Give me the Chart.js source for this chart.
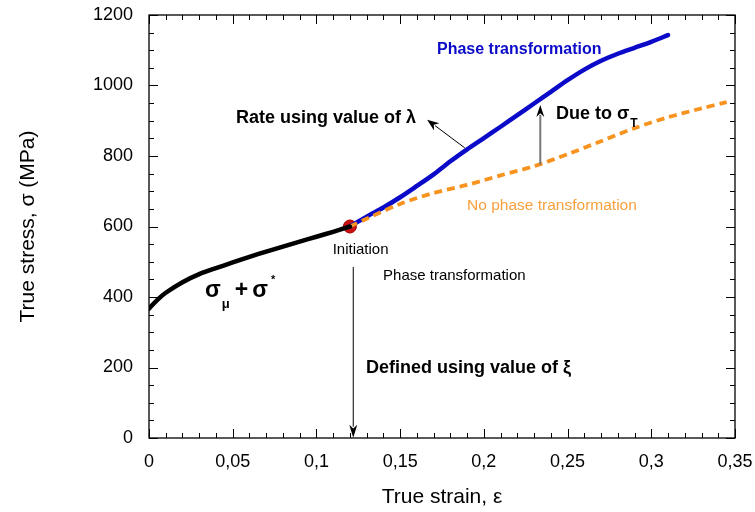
<!DOCTYPE html>
<html><head><meta charset="utf-8">
<script src="https://cdn.jsdelivr.net/npm/chart.js@4/dist/chart.umd.min.js"></script>
<style>html,body{margin:0;padding:0;background:#fff}</style>
</head><body>
<canvas id="c" width="755" height="512"></canvas>
<script>
// ---- data ----
const strainElastic = [0, 0.005, 0.01, 0.02, 0.03, 0.04, 0.05, 0.06, 0.07, 0.08, 0.09, 0.1, 0.11, 0.12];
const stressElastic = [367, 392, 412, 442, 465, 482, 498, 514, 529, 543, 557, 571, 585, 600];

const strainPhase = [0.12, 0.13, 0.14, 0.15, 0.16, 0.17, 0.18, 0.19, 0.2, 0.21, 0.22, 0.23, 0.24, 0.25, 0.26, 0.27, 0.28, 0.29, 0.3, 0.31];
const stressPhase = [600, 628, 654, 683, 715, 748, 785, 819, 851, 883, 916, 949, 982, 1015, 1045, 1070, 1090, 1107, 1124, 1143];

const strainNoPhase = [0.12, 0.13, 0.15, 0.17, 0.19, 0.21, 0.23, 0.25, 0.27, 0.29, 0.31, 0.33, 0.345];
const stressNoPhase = [600, 622, 664, 695, 718, 745, 771, 805, 842, 879, 910, 935, 953];

const initiationStrain = [0.12];
const initiationStress = [600];

const xTickValues = [0, 0.05, 0.1, 0.15, 0.2, 0.25, 0.3, 0.35];
const xTickLabels = ['0', '0,05', '0,1', '0,15', '0,2', '0,25', '0,3', '0,35'];
const yTickValues = [0, 200, 400, 600, 800, 1000, 1200];
const yTickLabels = ['0', '200', '400', '600', '800', '1000', '1200'];

const FONT = '"Liberation Sans", Arial, Helvetica, sans-serif';

function pts(xs, ys) { return xs.map((v, i) => ({ x: v, y: ys[i] })); }

function arrow(ctx, x1, y1, x2, y2, color, lw, hl, hw, headColor) {
  const ang = Math.atan2(y2 - y1, x2 - x1);
  const bx = x2 - hl * Math.cos(ang), by = y2 - hl * Math.sin(ang);
  ctx.strokeStyle = color; ctx.lineWidth = lw;
  ctx.beginPath(); ctx.moveTo(x1, y1); ctx.lineTo(bx + 2 * Math.cos(ang), by + 2 * Math.sin(ang)); ctx.stroke();
  ctx.fillStyle = headColor || color;
  ctx.beginPath();
  ctx.moveTo(x2, y2);
  ctx.lineTo(bx + hw / 2 * Math.sin(ang), by - hw / 2 * Math.cos(ang));
  ctx.lineTo(x2 - hl * 0.7 * Math.cos(ang), y2 - hl * 0.7 * Math.sin(ang));
  ctx.lineTo(bx - hw / 2 * Math.sin(ang), by + hw / 2 * Math.cos(ang));
  ctx.closePath(); ctx.fill();
}

function zeroPad(s) { s.paddingTop = 0; s.paddingBottom = 0; s.paddingLeft = 0; s.paddingRight = 0; }

const deco = {
  id: 'deco',
  afterDatasetsDraw(chart) {
    const { ctx, chartArea: a, scales: { x, y } } = chart;
    ctx.save();
    // frame
    ctx.strokeStyle = '#000'; ctx.lineWidth = 1.3;
    ctx.strokeRect(a.left, a.top, a.right - a.left, a.bottom - a.top);
    // inward ticks
    ctx.lineWidth = 1;
    for (let i = 0; i <= 35; i++) {
      const px = Math.round(x.getPixelForValue(i / 100)) + 0.5;
      const L = i % 5 === 0 ? 9 : 5;
      ctx.beginPath();
      ctx.moveTo(px, a.bottom); ctx.lineTo(px, a.bottom - L);
      ctx.moveTo(px, a.top); ctx.lineTo(px, a.top + L);
      ctx.stroke();
    }
    for (let i = 0; i <= 24; i++) {
      const py = Math.round(y.getPixelForValue(i * 50)) + 0.5;
      const L = i % 4 === 0 ? 9 : 5;
      ctx.beginPath();
      ctx.moveTo(a.left, py); ctx.lineTo(a.left + L, py);
      ctx.moveTo(a.right, py); ctx.lineTo(a.right - L, py);
      ctx.stroke();
    }

    const X = v => x.getPixelForValue(v), Y = v => y.getPixelForValue(v);
    function text(s, xv, yv, font, color) {
      ctx.font = font; ctx.fillStyle = color; ctx.textAlign = 'left'; ctx.textBaseline = 'alphabetic';
      ctx.fillText(s, X(xv), Y(yv));
    }
    // labels
    text('Phase transformation', 0.172, 1089, 'bold 16px ' + FONT, '#0a0ac8');
    text('Rate using value of λ', 0.052, 894, 'bold 18px ' + FONT, '#000');
    text('No phase transformation', 0.19, 647, '15.5px ' + FONT, '#f7a03c');
    text('Initiation', 0.1097, 522, '15px ' + FONT, '#000');
    text('Phase transformation', 0.1398, 448, '15px ' + FONT, '#000');
    text('Defined using value of ξ', 0.1296, 184, 'bold 18px ' + FONT, '#000');

    // Due to σT
    text('Due to σ', 0.2431, 905, 'bold 18px ' + FONT, '#000');
    ctx.font = 'bold 18px ' + FONT;
    const wDue = ctx.measureText('Due to σ').width;
    ctx.font = 'bold 12px ' + FONT;
    ctx.fillText('T', X(0.2431) + wDue + 1, Y(905) + 8);

    // σμ + σ*
    let cx = X(0.0335); const by = Y(400);
    ctx.fillStyle = '#000';
    ctx.font = 'bold 23px ' + FONT; ctx.fillText('σ', cx, by); cx += ctx.measureText('σ').width + 1;
    ctx.font = 'bold 13px ' + FONT; ctx.fillText('μ', cx, by + 11); cx += ctx.measureText('μ').width + 5;
    ctx.font = 'bold 23px ' + FONT; ctx.fillText('+', cx, by); cx += ctx.measureText('+').width + 4;
    ctx.fillText('σ', cx, by); cx += ctx.measureText('σ').width + 3;
    ctx.font = 'bold 11px ' + FONT; ctx.fillText('*', cx, by - 14);

    // arrows
    arrow(ctx, X(0.1886), Y(823), X(0.1661), Y(903), '#000', 1, 12, 9);
    arrow(ctx, X(0.2337), Y(776), X(0.2337), Y(945), '#777', 2, 12, 8, '#000');
    arrow(ctx, X(0.122), Y(485), X(0.122), Y(1), '#000', 1, 13, 8);
    ctx.restore();
  }
};

new Chart(document.getElementById('c').getContext('2d'), {
  type: 'scatter',
  data: {
    datasets: [
      { data: pts(strainElastic, stressElastic), showLine: true, borderColor: '#000', borderWidth: 4.5,
        pointRadius: 0, tension: 0.3, borderCapStyle: 'round' },
      { data: pts(strainNoPhase, stressNoPhase), showLine: true, borderColor: '#f7931e', borderWidth: 3.8,
        borderDash: [8, 5], pointRadius: 0, tension: 0.3 },
      { data: pts(strainPhase, stressPhase), showLine: true, borderColor: '#0a0ac8', borderWidth: 4.5,
        pointRadius: 0, tension: 0.3, borderCapStyle: 'round' },
      { data: pts(initiationStrain, initiationStress), showLine: false, pointRadius: 6.5,
        pointBackgroundColor: '#cc1010', pointBorderColor: '#a00000', pointBorderWidth: 1 }
    ]
  },
  options: {
    responsive: false, animation: false, events: [],
    layout: { padding: { top: 15, right: 20, left: 0, bottom: 0 } },
    plugins: { legend: { display: false }, tooltip: { enabled: false } },
    scales: {
      x: {
        type: 'linear', min: 0, max: 0.35,
        afterBuildTicks: s => { s.ticks = xTickValues.map(v => ({ value: v })); },
        ticks: { callback: (v, i) => xTickLabels[i], font: { family: FONT, size: 18 }, color: '#000',
                 padding: 13, maxRotation: 0, autoSkip: false },
        grid: { display: false, drawTicks: false }, border: { display: false },
        title: { display: true, text: 'True strain, ε', font: { family: FONT, size: 21 }, color: '#000',
                 padding: { top: 4, bottom: 2 } },
        afterFit: s => { s.height = 74; zeroPad(s); }
      },
      y: {
        type: 'linear', min: 0, max: 1200,
        afterBuildTicks: s => { s.ticks = yTickValues.map(v => ({ value: v })); },
        ticks: { callback: (v, i) => yTickLabels[i], font: { family: FONT, size: 18 }, color: '#000',
                 padding: 16, autoSkip: false },
        grid: { display: false, drawTicks: false }, border: { display: false },
        title: { display: true, text: 'True stress, σ (MPa)', font: { family: FONT, size: 21 }, color: '#000',
                 padding: { top: 16, bottom: 4 } },
        afterFit: s => { s.width = 149; zeroPad(s); }
      }
    }
  },
  plugins: [deco]
});
</script>
</body></html>
